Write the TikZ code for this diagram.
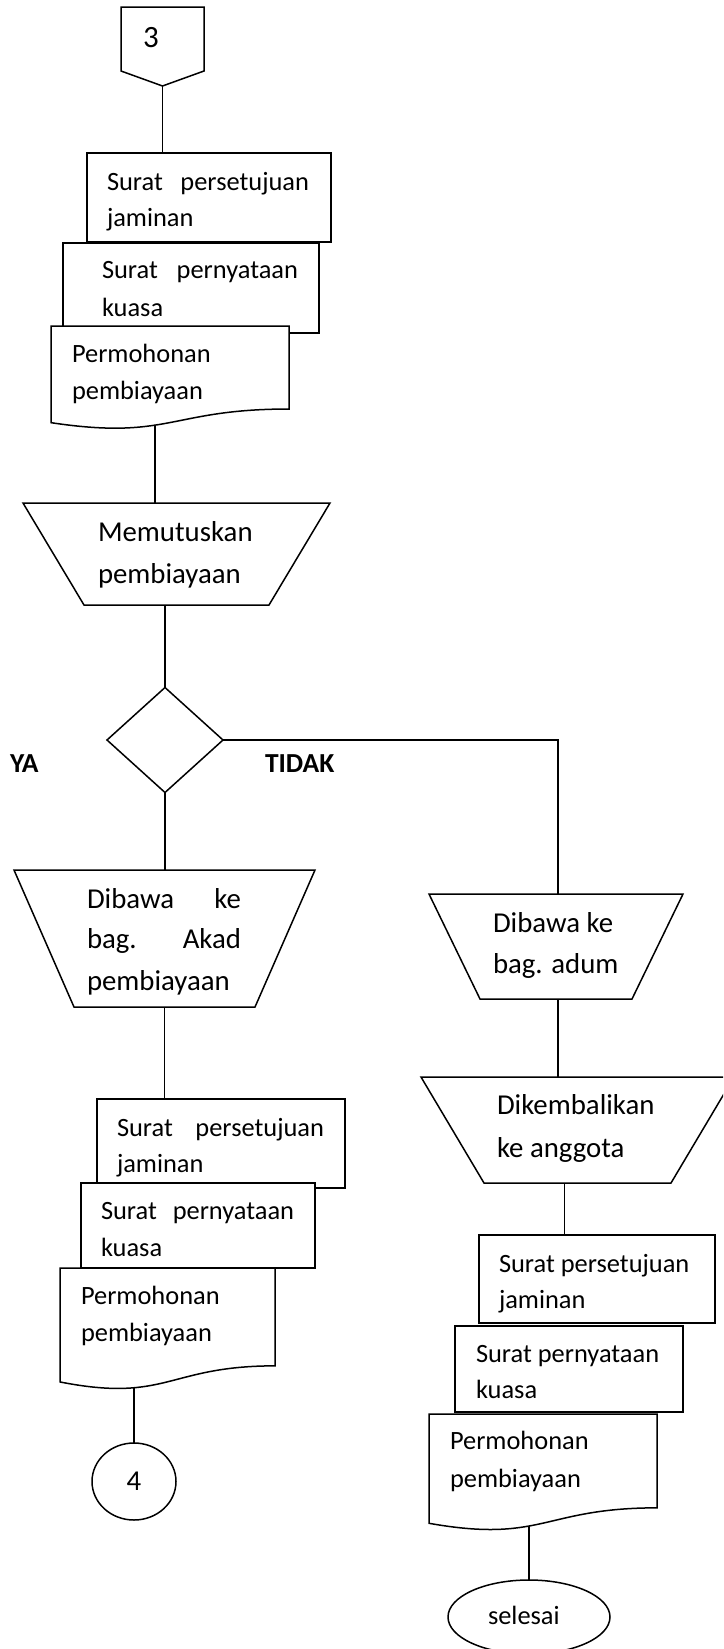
\documentclass[tikz,border=0pt]{standalone}
\usepackage{fontspec}
\setmainfont{Carlito}
\usetikzlibrary{shapes.geometric,calc}

\pgfdeclarelayer{bg}
\pgfsetlayers{bg,main}

% type sizes (1pt of the picture = 1 unit)
\newcommand\docfont{\fontsize{26.4pt}{32pt}\selectfont}
\newcommand\opfont{\fontsize{28.8pt}{34pt}\selectfont}
\newcommand\numfont{\fontsize{31pt}{36pt}\selectfont}
\newcommand\flagfont{\fontsize{27.5pt}{33pt}\selectfont\bfseries}

\tikzset{
  flow/.style={line width=1.5pt, line join=miter},
  frame/.style={flow, draw=black, fill=white},
  area/.style 2 args={shape=rectangle, anchor=north west, inner sep=0pt,
    outer sep=0pt, minimum width=#1, minimum height=#2},
  txt/.style={anchor=base west, inner sep=0pt, outer sep=0pt},
  doctxt/.style={txt, font=\docfont},
  optxt/.style={txt, font=\opfont},
  flagtxt/.style={txt, font=\flagfont},
}

% document symbol with a wavy lower edge
\newcommand\wavydoc[1]{%
  \draw[frame] (#1.north west) -- (#1.north east)
    -- ($(#1.north east)!0.802!(#1.south east)$)
    .. controls ($(#1.north)!0.802!(#1.south)$) and ($(#1.north)!1.107!(#1.south)$)
    .. ($(#1.north west)!0.934!(#1.south west)$) -- cycle;}

% manual operation symbol (trapezium, wide side up)
\newcommand\manop[2]{%
  \draw[frame] (#1.north west) -- (#1.north east)
    -- ([xshift=-#2pt]#1.south east) -- ([xshift=#2pt]#1.south west) -- cycle;}

\begin{document}
\begin{tikzpicture}[x=1pt,y=-1pt]
\begin{pgfonlayer}{bg}
  \fill[white] (0,0) rectangle (723,1649);
\end{pgfonlayer}
\useasboundingbox (0,0) rectangle (723,1649);
\clip (0,0) rectangle (723,1649);

% off-page connector 3
\node[area={83}{79}] (P3) at (121,7) {};
\draw[frame] (P3.north west) -- (P3.north east) -- ([yshift=15pt]P3.south east)
  -- (P3.south) -- ([yshift=15pt]P3.south west) -- cycle;
\node[txt, font=\numfont] (P3t) at (143,47) {3};

% first stack of documents
\node[area={244}{89}, frame] (A1) at (87,153) {};
\node[doctxt] (A1a) at (107,190) {\hbox to 202pt{Surat\hfill persetujuan}};
\node[doctxt] (A1b) at (107,226) {jaminan};
\node[area={256}{90}, frame] (A2) at (63,243) {};
\node[doctxt] (A2a) at (102,278) {\hbox to 196pt{Surat\hfill pernyataan}};
\node[doctxt] (A2b) at (102,316) {kuasa};
\node[area={238}{103.5}] (A3) at (51,326) {};
\wavydoc{A3}
\node[doctxt] (A3a) at (72,362) {Permohonan};
\node[doctxt] (A3b) at (72,399) {pembiayaan};

% decision step
\node[area={307}{102}] (M) at (23,503) {};
\manop{M}{61}
\node[optxt] (Ma) at (98,541) {Memutuskan};
\node[optxt] (Mb) at (98,583) {pembiayaan};

\node[diamond, frame, inner sep=0pt, outer sep=0pt,
  minimum width=116pt, minimum height=105pt] (D) at (165,740) {};
\node[flagtxt] (YA) at (10,772) {YA};
\node[flagtxt] (TIDAK) at (265,772) {TIDAK};

% YA branch
\node[area={301}{137}] (K) at (14,870) {};
\manop{K}{60}
\node[optxt] (Ka) at (87,908) {\hbox to 154pt{Dibawa\hfill ke}};
\node[optxt] (Kb) at (87,948) {\hbox to 154pt{bag.\hfill Akad}};
\node[optxt] (Kc) at (87,990) {pembiayaan};

\node[area={248}{89}, frame] (B1) at (97,1099) {};
\node[doctxt] (B1a) at (117,1136) {\hbox to 207pt{Surat\hfill persetujuan}};
\node[doctxt] (B1b) at (117,1172) {jaminan};
\node[area={234}{85}, frame] (B2) at (81,1183) {};
\node[doctxt] (B2a) at (101,1219) {\hbox to 193pt{Surat\hfill pernyataan}};
\node[doctxt] (B2b) at (101,1256) {kuasa};
\node[area={215}{122}] (B3) at (60,1268) {};
\wavydoc{B3}
\node[doctxt] (B3a) at (81,1304) {Permohonan};
\node[doctxt] (B3b) at (81,1341) {pembiayaan};

\node[ellipse, frame, inner sep=0pt, outer sep=0pt,
  minimum width=84pt, minimum height=77pt, font=\opfont] (C4) at (134,1481.5) {4};

% TIDAK branch
\node[area={254}{105}] (AD) at (429,894) {};
\manop{AD}{51}
\node[optxt] (ADa) at (493,932) {Dibawa ke};
\node[optxt] (ADb) at (493,973) {bag. adum};

\node[area={313}{106}] (DK) at (421,1077) {};
\manop{DK}{63}
\node[optxt] (DKa) at (497,1114) {Dikembalikan};
\node[optxt] (DKb) at (497,1157) {ke anggota};

\node[area={236}{88}, frame] (C1) at (479,1235) {};
\node[doctxt] (C1a) at (499,1272) {Surat persetujuan};
\node[doctxt] (C1b) at (499,1308) {jaminan};
\node[area={228}{86}, frame] (C2) at (455,1326) {};
\node[doctxt] (C2a) at (476,1362) {Surat pernyataan};
\node[doctxt] (C2b) at (476,1398) {kuasa};
\node[area={228}{117}] (C3) at (429,1414) {};
\wavydoc{C3}
\node[doctxt] (C3a) at (450,1449) {Permohonan};
\node[doctxt] (C3b) at (450,1487) {pembiayaan};

\node[ellipse, frame, inner sep=0pt, outer sep=0pt,
  minimum width=162pt, minimum height=74pt] (E) at (529,1617) {};
\node[doctxt] (Et) at (488,1624) {selesai};

% connectors, kept under the symbols
\begin{pgfonlayer}{bg}
  \draw[flow] (P3.south) -- (P3.south |- A1.north);
  \draw[flow] ([xshift=-15pt]A3.center) -- ([xshift=-15pt]A3.center |- M.north);
  \draw[flow] (D.north |- M.south) -- (D.north);
  \draw[flow] (D.south) -- (D.south |- K.north);
  \draw[flow] (D.east) -| ([xshift=2pt]AD.north);
  \draw[flow] (K.south) -- (K.south |- B1.north);
  \draw[flow] (C4.north |- B3.center) -- (C4.north);
  \draw[flow] ([xshift=2pt]AD.south) -- ([xshift=2pt]AD.south |- DK.north);
  \draw[flow] ([xshift=-13pt]DK.south) -- ([xshift=-13pt]DK.south |- C1.north);
  \draw[flow] (E.north |- C3.center) -- (E.north);
\end{pgfonlayer}
\end{tikzpicture}
\end{document}
